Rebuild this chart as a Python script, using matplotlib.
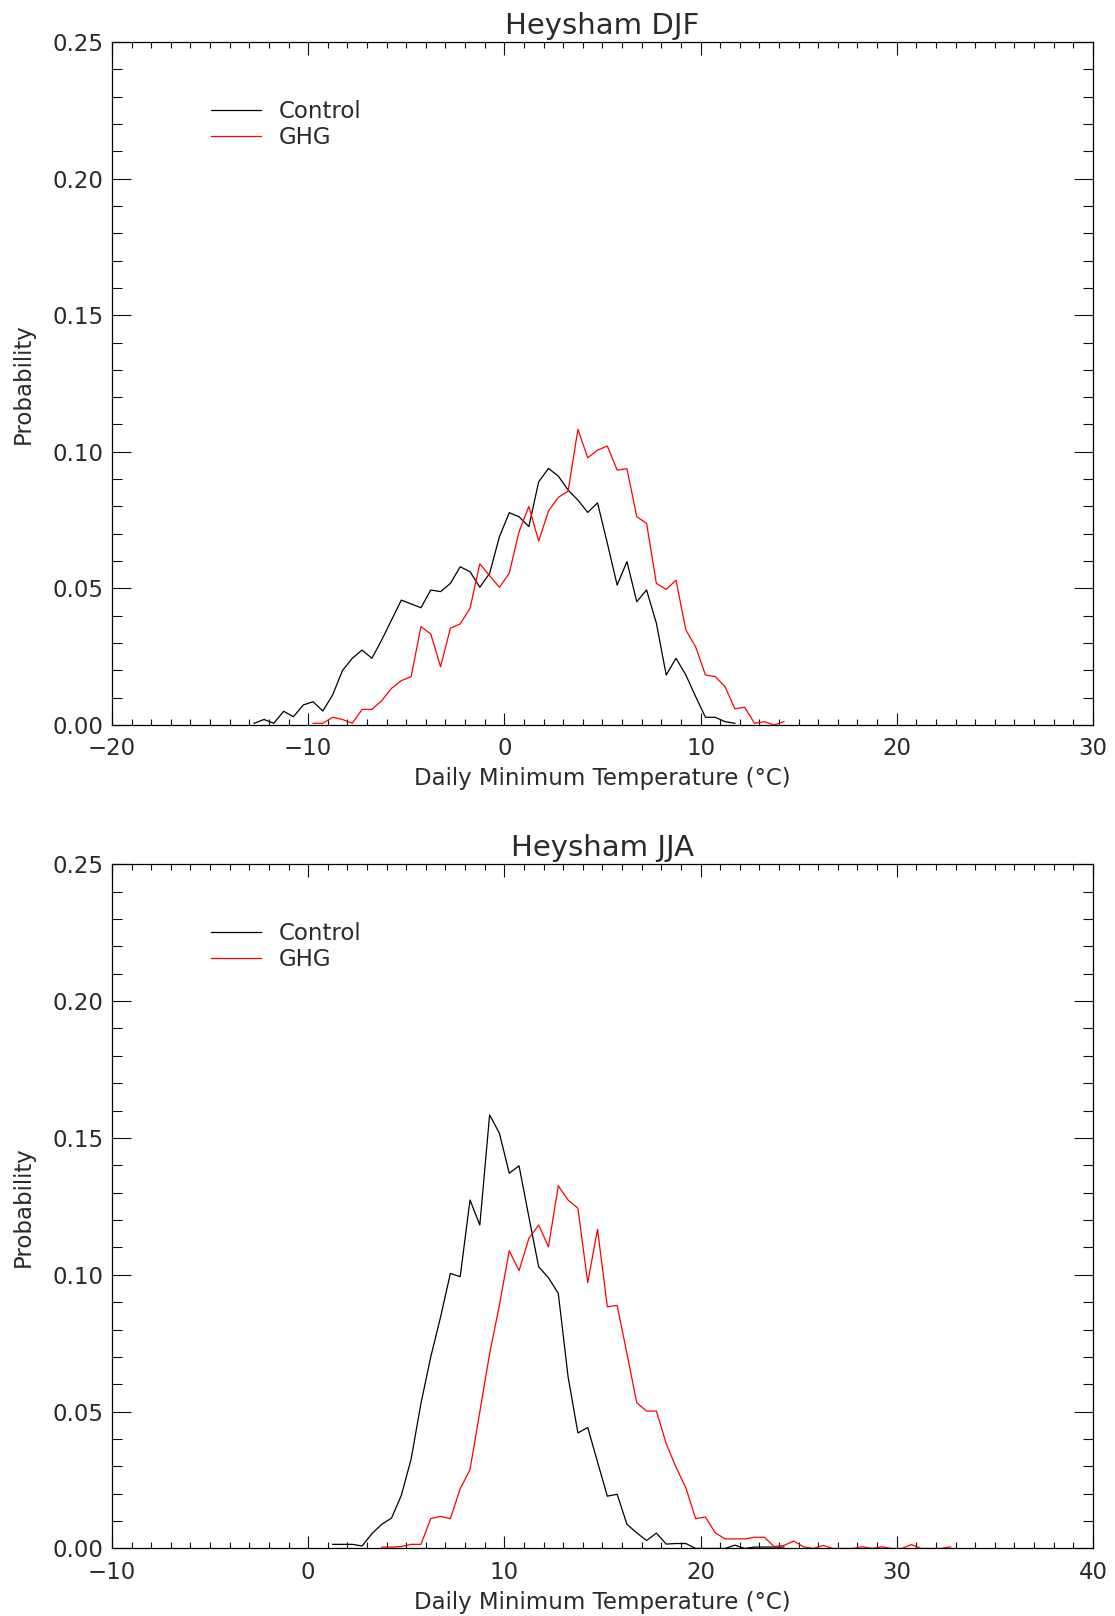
"""Heysham daily minimum temperature distributions, Control vs GHG"""

import numpy as np
import matplotlib
matplotlib.use('Agg')
import matplotlib.pyplot as plt
from matplotlib.ticker import MultipleLocator, FormatStrFormatter

# Bin width of the daily minimum temperature histograms (degC)
bin_width = 0.5

# Winter (DJF)
djf_control_start = -12.75
djf_control = [
    0.0006, 0.0020, 0.0006, 0.0050, 0.0030, 0.0073, 0.0085, 0.0051, 0.0110, 0.0199,
    0.0244, 0.0274, 0.0244, 0.0311, 0.0384, 0.0457, 0.0443, 0.0429, 0.0494, 0.0488,
    0.0518, 0.0579, 0.0561, 0.0504, 0.0555, 0.0689, 0.0777, 0.0762, 0.0726, 0.0890,
    0.0939, 0.0911, 0.0860, 0.0823, 0.0778, 0.0813, 0.0665, 0.0512, 0.0598, 0.0451,
    0.0494, 0.0372, 0.0183, 0.0244, 0.0183, 0.0104, 0.0028, 0.0028, 0.0012, 0.0006,
]
djf_ghg_start = -9.75
djf_ghg = [
    0.0006, 0.0006, 0.0028, 0.0020, 0.0006, 0.0057, 0.0057, 0.0089, 0.0134, 0.0162,
    0.0177, 0.0360, 0.0333, 0.0213, 0.0354, 0.0370, 0.0427, 0.0590, 0.0546, 0.0504,
    0.0555, 0.0707, 0.0800, 0.0673, 0.0783, 0.0833, 0.0856, 0.1082, 0.0978, 0.1006,
    0.1021, 0.0933, 0.0938, 0.0762, 0.0738, 0.0518, 0.0496, 0.0530, 0.0348, 0.0286,
    0.0183, 0.0177, 0.0140, 0.0059, 0.0065, 0.0006, 0.0012, 0.0000, 0.0012,
]

# Summer (JJA)
jja_control_start = 1.25
jja_control = [
    0.0015, 0.0015, 0.0015, 0.0009, 0.0054, 0.0088, 0.0111, 0.0194, 0.0327, 0.0530,
    0.0700, 0.0846, 0.1005, 0.0993, 0.1273, 0.1182, 0.1584, 0.1517, 0.1371, 0.1398,
    0.1212, 0.1029, 0.0989, 0.0932, 0.0627, 0.0422, 0.0442, 0.0316, 0.0191, 0.0198,
    0.0088, 0.0057, 0.0029, 0.0056, 0.0016, 0.0018, 0.0018, 0.0000, 0.0000, 0.0000,
    0.0000, 0.0012, 0.0000, 0.0005, 0.0005, 0.0005, 0.0005,
]
jja_ghg_start = 3.75
jja_ghg = [
    0.0005, 0.0005, 0.0007, 0.0015, 0.0015, 0.0109, 0.0117, 0.0109, 0.0218, 0.0288,
    0.0499, 0.0712, 0.0889, 0.1088, 0.1015, 0.1133, 0.1182, 0.1102, 0.1325, 0.1273,
    0.1243, 0.0971, 0.1166, 0.0883, 0.0888, 0.0712, 0.0532, 0.0502, 0.0502, 0.0383,
    0.0297, 0.0222, 0.0109, 0.0115, 0.0057, 0.0035, 0.0035, 0.0035, 0.0041, 0.0041,
    0.0007, 0.0011, 0.0027, 0.0006, 0.0000, 0.0011, 0.0000, 0.0000, 0.0000, 0.0006,
    0.0000, 0.0006, 0.0000, 0.0000, 0.0014, 0.0000, 0.0000, 0.0000, 0.0006,
]

TEXT_COLOR = '#2a2a2a'
FS = 16.5

plt.rcParams['font.family'] = ['DejaVu Sans']
plt.rcParams['text.color'] = TEXT_COLOR
plt.rcParams['axes.labelcolor'] = TEXT_COLOR
plt.rcParams['xtick.color'] = '#111111'
plt.rcParams['ytick.color'] = '#111111'
plt.rcParams['xtick.labelcolor'] = TEXT_COLOR
plt.rcParams['ytick.labelcolor'] = TEXT_COLOR


def bin_centres(start, values):
    """Bin centre temperatures for a histogram starting at `start`."""
    return start + bin_width * np.arange(len(values))


def plot_panel(ax, title, xlim, control_start, control, ghg_start, ghg):
    """Draw one season's Control/GHG probability curves."""
    ax.plot(bin_centres(control_start, control), control, color='black',
            linewidth=0.9, label='Control')
    ax.plot(bin_centres(ghg_start, ghg), ghg, color='red',
            linewidth=0.9, label='GHG')

    ax.set_xlim(*xlim)
    ax.set_ylim(0, 0.25)
    ax.xaxis.set_major_locator(MultipleLocator(10))
    ax.xaxis.set_minor_locator(MultipleLocator(1))
    ax.yaxis.set_major_locator(MultipleLocator(0.05))
    ax.yaxis.set_minor_locator(MultipleLocator(0.01))
    ax.yaxis.set_major_formatter(FormatStrFormatter('%.2f'))

    ax.tick_params(axis='both', which='both', direction='in',
                   top=True, right=True, width=0.8, labelsize=FS)
    ax.tick_params(axis='x', which='major', length=9, pad=9)
    ax.tick_params(axis='x', which='minor', length=4.5)
    ax.tick_params(axis='y', which='major', length=13.5, pad=6)
    ax.tick_params(axis='y', which='minor', length=7)
    for spine in ax.spines.values():
        spine.set_linewidth(0.9)

    ax.set_title(title, fontsize=21, pad=6, color=TEXT_COLOR)
    ax.set_xlabel('Daily Minimum Temperature (°C)', fontsize=FS, labelpad=5)
    ax.set_ylabel('Probability', fontsize=FS, labelpad=13)

    ax.legend(loc='upper left', bbox_to_anchor=(0.101, 0.915), frameon=False,
              fontsize=FS, handlelength=2.2, handletextpad=0.75,
              labelspacing=0.12, borderpad=0, borderaxespad=0)


fig = plt.figure(figsize=(11.15, 16.16), dpi=100)
ax_djf = fig.add_axes([0.1004, 0.5514, 0.8798, 0.4226])
ax_jja = fig.add_axes([0.1004, 0.0418, 0.8798, 0.4234])

plot_panel(ax_djf, 'Heysham DJF', (-20, 30),
           djf_control_start, djf_control, djf_ghg_start, djf_ghg)
plot_panel(ax_jja, 'Heysham JJA', (-10, 40),
           jja_control_start, jja_control, jja_ghg_start, jja_ghg)

fig.savefig('out.png', dpi=100)
